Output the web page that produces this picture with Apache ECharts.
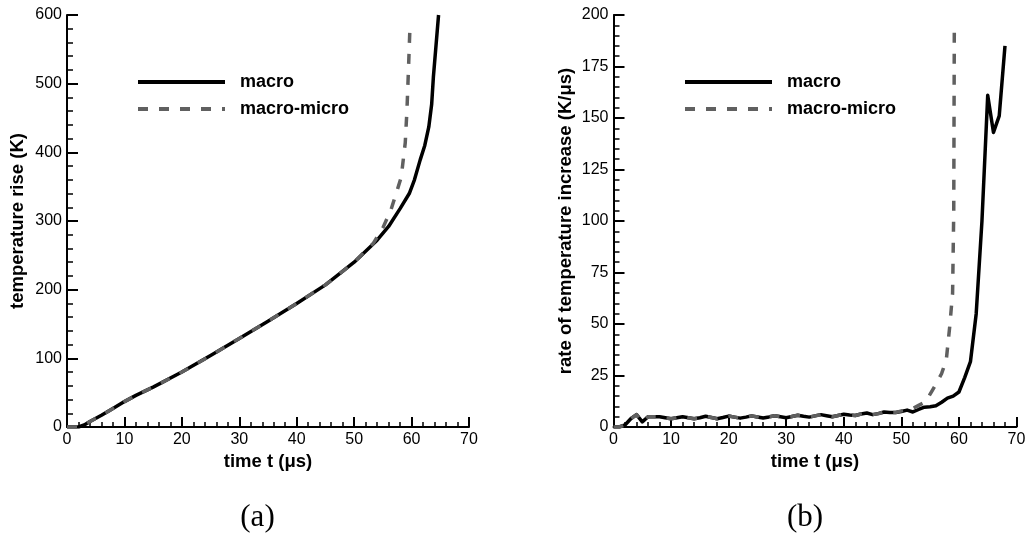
<!DOCTYPE html>
<html>
<head>
<meta charset="utf-8">
<script src="https://cdn.jsdelivr.net/npm/echarts@6/dist/echarts.min.js"></script>
<style>
html,body{margin:0;padding:0;background:#fff;}
#chart{width:1029px;height:541px;}
</style>
</head>
<body>
<div id="chart"></div>
<script>
// ---- Data ----
// (a) temperature rise (K) vs time t (µs)
const tempMacroT = [0, 2, 3, 4, 6, 8, 10, 12, 15, 20, 25, 30, 35, 40, 45, 50, 52, 54, 56, 58, 59.6, 60.5, 61.5, 62.3, 63, 63.5, 63.8, 64.2, 64.7];
const tempMacroV = [0, 0, 3, 8, 17, 27, 37, 46, 58, 80, 104, 129, 154, 180, 207, 240, 256, 272, 292, 318, 340, 360, 389, 410, 437, 470, 510, 550, 600];
const tempMicroT = [0, 2, 3, 4, 6, 8, 10, 12, 15, 20, 25, 30, 35, 40, 45, 50, 52, 53.3, 55, 56.4, 57.5, 58.2, 58.9, 59.2, 59.5, 59.75];
const tempMicroV = [0, 0, 3, 8, 17, 27, 37, 46, 58, 80, 104, 129, 154, 180, 207, 240, 257, 267, 290, 316, 345, 364, 414, 462, 530, 590];

// (b) rate of temperature increase (K/µs) vs time t (µs)
const rateMacroT = [0,1,2,3,4,5,6,7,8,9,10,11,12,13,14,15,16,17,18,19,20,21,22,23,24,25,26,27,28,29,30,31,32,33,34,35,36,37,38,39,40,41,42,43,44,45,46,47,48,49,50,51,52,53,54,55,56,57,58,59,60,61,62,63,64,65,66,67,68];
const rateMacroV = [0,0,1,4,6,2.5,5,5,5,4.5,4,4.5,5,4.5,4,4.5,5.2,4.6,4,4.6,5.3,4.8,4.3,4.8,5.4,4.9,4.4,4.9,5.5,5,4.5,5.1,5.7,5.2,4.8,5.4,6,5.5,5,5.6,6.2,5.8,5.6,6.3,6.8,6,6.5,7.3,7,7,7.5,8.2,7.3,8.5,9.6,9.8,10.3,12,14,15,17,24,31.7,55,100,161,143,151,185];
const rateMicroT = [0,1,2,3,4,5,6,7,8,9,10,11,12,13,14,15,16,17,18,19,20,21,22,23,24,25,26,27,28,29,30,31,32,33,34,35,36,37,38,39,40,41,42,43,44,45,46,47,48,49,50,51,52,53,54.3,55,56.1,57,57.8,58.4,58.9,59.1,59.2];
const rateMicroV = [0,0,1,4,6,2.5,5,5,5,4.5,4,4.5,5,4.5,4,4.5,5.2,4.6,4,4.6,5.3,4.8,4.3,4.8,5.4,4.9,4.4,4.9,5.5,5,4.5,5.1,5.7,5.2,4.8,5.4,6,5.5,5,5.6,6.2,5.8,5.6,6.3,6.8,6,6.5,7.3,7,7,7.8,8.3,9,10.5,12.3,16,21.2,26,32.5,48.7,65,105,195];

const seriesNames = ['macro', 'macro-micro'];
const xTitle = 'time t (\u03bcs)';
const yTitleA = 'temperature rise (K)';
const yTitleB = 'rate of temperature increase (K/\u03bcs)';
const captions = ['(a)', '(b)'];

function zip(ts, vs) { return ts.map((t, i) => [t, vs[i]]); }

const FONT = '"Liberation Sans", Arial, Helvetica, sans-serif';
const SOLID = '#000000';
const GRAY = '#606060';
const DASH = [10, 11];

function xAxisCfg(gridIndex) {
  return {
    gridIndex, type: 'value', min: 0, max: 70, interval: 10,
    name: xTitle, nameLocation: 'middle', nameGap: 24,
    nameTextStyle: { fontFamily: FONT, fontSize: 18.5, fontWeight: 'bold', color: '#000' },
    splitLine: { show: false },
    axisLine: { onZero: false, lineStyle: { color: '#000', width: 2 } },
    axisTick: { inside: true, length: 10, lineStyle: { color: '#000', width: 2 } },
    minorTick: { show: true, splitNumber: 5, length: 5, lineStyle: { color: '#000', width: 1.5 } },
    minorSplitLine: { show: false },
    axisLabel: { fontFamily: FONT, fontSize: 16, color: '#000', margin: 5 }
  };
}
function yAxisCfg(gridIndex, max, interval, name, gap) {
  return {
    gridIndex, type: 'value', min: 0, max, interval,
    name, nameLocation: 'middle', nameGap: gap,
    nameTextStyle: { fontFamily: FONT, fontSize: 18.5, fontWeight: 'bold', color: '#000' },
    splitLine: { show: false },
    axisLine: { onZero: false, lineStyle: { color: '#000', width: 2 } },
    axisTick: { inside: true, length: 11, lineStyle: { color: '#000', width: 2 } },
    minorTick: { show: true, splitNumber: 5, length: 6, lineStyle: { color: '#000', width: 1.5 } },
    minorSplitLine: { show: false },
    axisLabel: { fontFamily: FONT, fontSize: 16, color: '#000', margin: 5 }
  };
}
function legendCfg(left) {
  return {
    orient: 'vertical', left, top: 68,
    itemWidth: 87, itemHeight: 14, itemGap: 9,
    data: seriesNames,
    selectedMode: false,
    lineStyle: { width: 4 },
    itemStyle: { opacity: 0 },
    textStyle: { fontFamily: FONT, fontSize: 18, fontWeight: 'bold', color: '#000', lineHeight: 14, padding: [0, 0, 0, 10] }
  };
}
function lineSeries(name, xi, data, color, type, z) {
  return {
    name, type: 'line', xAxisIndex: xi, yAxisIndex: xi, data,
    symbol: 'none', showSymbol: false, smooth: false,
    lineStyle: { color, width: 3.5, type, cap: 'butt', join: 'round' },
    itemStyle: { color }, z
  };
}

const chart = echarts.init(document.getElementById('chart'), null, { renderer: 'canvas' });
chart.setOption({
  animation: false,
  backgroundColor: '#fff',
  grid: [
    { left: 67, top: 15, width: 402, height: 412 },
    { left: 613.5, top: 15, width: 403, height: 412 }
  ],
  xAxis: [xAxisCfg(0), xAxisCfg(1)],
  yAxis: [yAxisCfg(0, 600, 100, yTitleA, 40), yAxisCfg(1, 200, 25, yTitleB, 38)],
  legend: [legendCfg(131), legendCfg(678)],
  series: [
    lineSeries(seriesNames[0], 0, zip(tempMacroT, tempMacroV), SOLID, 'solid', 2),
    lineSeries(seriesNames[1], 0, zip(tempMicroT, tempMicroV), GRAY, DASH, 3),
    lineSeries(seriesNames[0], 1, zip(rateMacroT, rateMacroV), SOLID, 'solid', 2),
    lineSeries(seriesNames[1], 1, zip(rateMicroT, rateMicroV), GRAY, DASH, 3)
  ],
  graphic: [
    { type: 'text', x: 257.5, y: 518, style: { text: captions[0], font: '31px "Liberation Serif", "DejaVu Serif", serif', fill: '#000', align: 'center', verticalAlign: 'middle' } },
    { type: 'text', x: 805, y: 518, style: { text: captions[1], font: '31px "Liberation Serif", "DejaVu Serif", serif', fill: '#000', align: 'center', verticalAlign: 'middle' } }
  ]
});
</script>
</body>
</html>
